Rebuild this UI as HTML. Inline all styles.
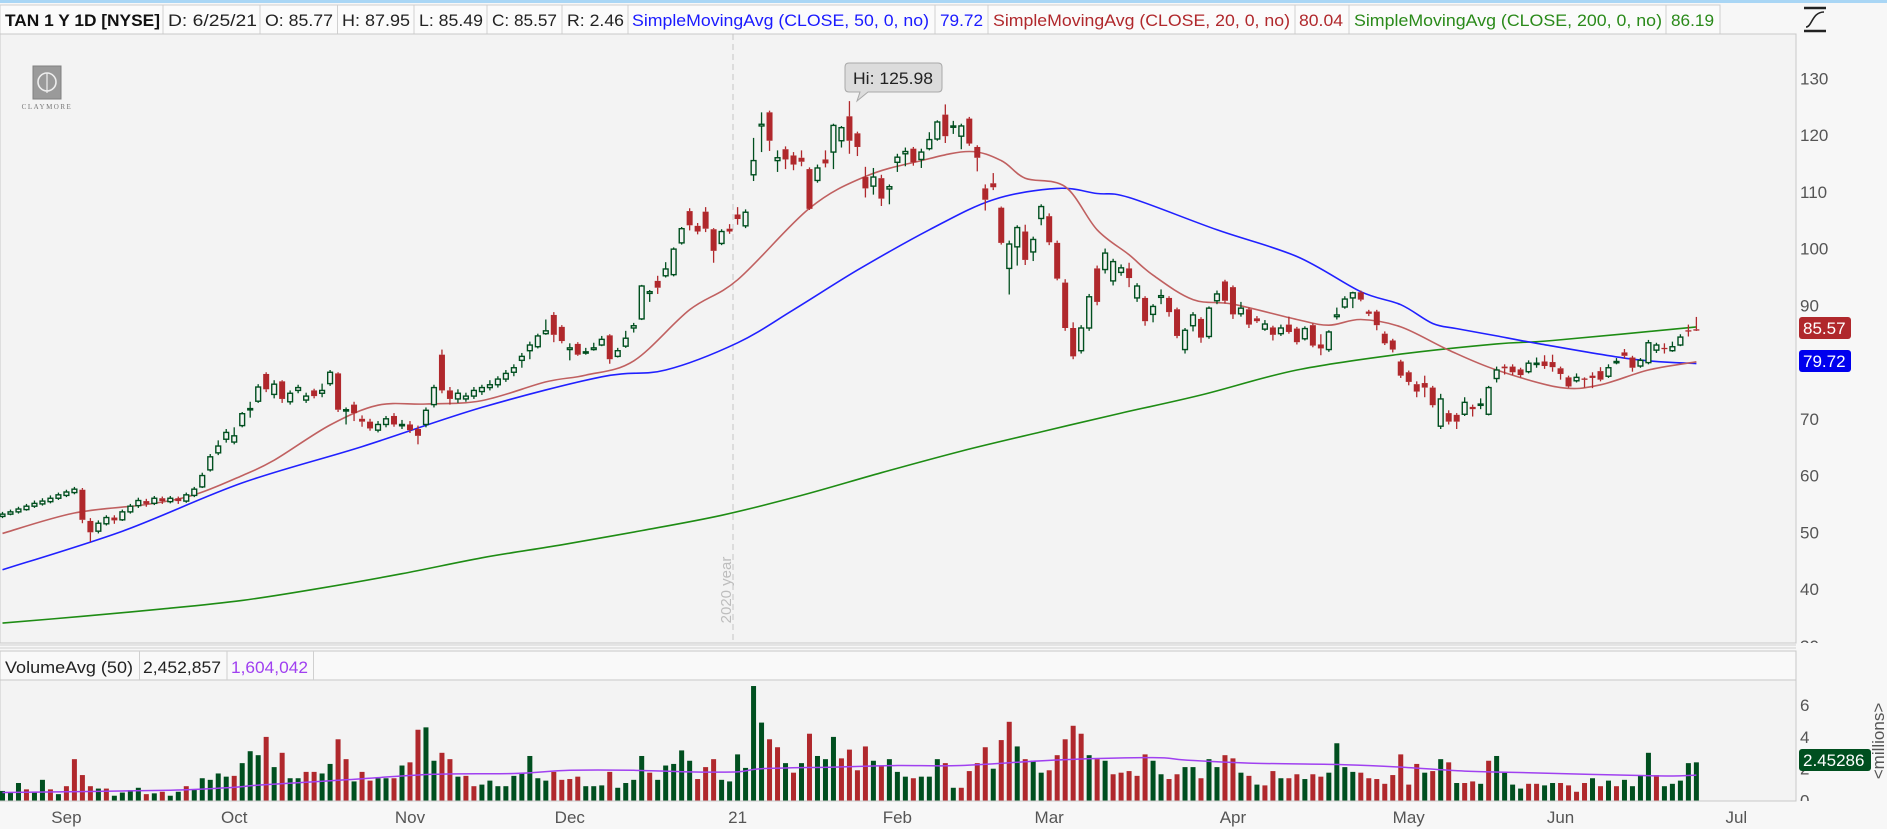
<!DOCTYPE html>
<html><head><meta charset="utf-8"><title>TAN 1 Y 1D</title>
<style>
html,body{margin:0;padding:0;background:#f7f7f7;overflow:hidden}
svg{display:block;font-family:"Liberation Sans",sans-serif}
</style></head>
<body>
<svg id="chart" width="1887" height="829" viewBox="0 0 1887 829" xmlns="http://www.w3.org/2000/svg">
<defs>
<clipPath id="priceClip"><rect x="0" y="34" width="1796" height="609"/></clipPath>
<clipPath id="axisClip"><rect x="1796" y="34" width="91" height="609"/></clipPath>
<clipPath id="volAxisClip"><rect x="1796" y="680" width="91" height="121"/></clipPath>
</defs>
<rect x="0" y="0" width="1887" height="829" fill="#f7f7f7"/>
<rect x="0" y="0" width="1887" height="3" fill="#a9d6f5"/>
<!-- legend row -->
<g>
<rect x="0" y="5" width="1720" height="29" fill="#fbfbfb" stroke="#cfcfcf"/>
<text x="5" y="26" font-size="17" font-weight="bold" fill="#111" textLength="155" lengthAdjust="spacingAndGlyphs">TAN 1 Y 1D [NYSE]</text>
<text x="168" y="26" font-size="17" fill="#222" textLength="89" lengthAdjust="spacingAndGlyphs">D: 6/25/21</text>
<text x="265" y="26" font-size="17" fill="#222" textLength="68" lengthAdjust="spacingAndGlyphs">O: 85.77</text>
<text x="342" y="26" font-size="17" fill="#222" textLength="68" lengthAdjust="spacingAndGlyphs">H: 87.95</text>
<text x="419" y="26" font-size="17" fill="#222" textLength="64" lengthAdjust="spacingAndGlyphs">L: 85.49</text>
<text x="492" y="26" font-size="17" fill="#222" textLength="65" lengthAdjust="spacingAndGlyphs">C: 85.57</text>
<text x="567" y="26" font-size="17" fill="#222" textLength="57" lengthAdjust="spacingAndGlyphs">R: 2.46</text>
<text x="632" y="26" font-size="17" fill="#1a1aff" textLength="297" lengthAdjust="spacingAndGlyphs">SimpleMovingAvg (CLOSE, 50, 0, no)</text>
<text x="940" y="26" font-size="17" fill="#1a1aff" textLength="43" lengthAdjust="spacingAndGlyphs">79.72</text>
<text x="993" y="26" font-size="17" fill="#b0282c" textLength="297" lengthAdjust="spacingAndGlyphs">SimpleMovingAvg (CLOSE, 20, 0, no)</text>
<text x="1299" y="26" font-size="17" fill="#b0282c" textLength="44" lengthAdjust="spacingAndGlyphs">80.04</text>
<text x="1354" y="26" font-size="17" fill="#2a8a1a" textLength="308" lengthAdjust="spacingAndGlyphs">SimpleMovingAvg (CLOSE, 200, 0, no)</text>
<text x="1671" y="26" font-size="17" fill="#2a8a1a" textLength="43" lengthAdjust="spacingAndGlyphs">86.19</text>
<g stroke="#d0d0d0" stroke-width="1">
<line x1="163" y1="5" x2="163" y2="34"/><line x1="260" y1="5" x2="260" y2="34"/><line x1="337.5" y1="5" x2="337.5" y2="34"/><line x1="414" y1="5" x2="414" y2="34"/><line x1="487" y1="5" x2="487" y2="34"/><line x1="562" y1="5" x2="562" y2="34"/><line x1="628" y1="5" x2="628" y2="34"/><line x1="935" y1="5" x2="935" y2="34"/><line x1="988" y1="5" x2="988" y2="34"/><line x1="1295" y1="5" x2="1295" y2="34"/><line x1="1349" y1="5" x2="1349" y2="34"/><line x1="1666" y1="5" x2="1666" y2="34"/>
</g>
</g>
<g stroke="#222" stroke-width="2.5" fill="none">
<line x1="1804" y1="8" x2="1826" y2="8"/><line x1="1804" y1="31" x2="1826" y2="31"/>
<path d="M1806 27 C1812 27 1812 12 1824 12" stroke-width="1.6"/>
</g>
<!-- price panel -->
<rect x="0" y="34" width="1796" height="609" fill="#f3f3f3" stroke="#c8c8c8"/>
<line x1="0" y1="645" x2="1796" y2="645" stroke="#d0d0d0" stroke-width="1"/>
<line x1="0" y1="648" x2="1796" y2="648" stroke="#d0d0d0" stroke-width="1"/>
<!-- volume panel -->
<rect x="0" y="651" width="1796" height="29" fill="#f9f9f9" stroke="#c8c8c8"/>
<rect x="0" y="680" width="1796" height="121" fill="#f3f3f3" stroke="#c8c8c8"/>
<text x="5" y="673" font-size="17" fill="#222" textLength="128" lengthAdjust="spacingAndGlyphs">VolumeAvg (50)</text>
<text x="143" y="673" font-size="17" fill="#222" textLength="78" lengthAdjust="spacingAndGlyphs">2,452,857</text>
<text x="231" y="673" font-size="17" fill="#a040f0" textLength="77" lengthAdjust="spacingAndGlyphs">1,604,042</text>
<g stroke="#d0d0d0"><line x1="139.5" y1="651" x2="139.5" y2="680"/><line x1="227" y1="651" x2="227" y2="680"/><line x1="313.5" y1="651" x2="313.5" y2="680"/></g>
<!-- year separator -->
<line x1="733" y1="34" x2="733" y2="643" stroke="#c4c4c4" stroke-dasharray="6,4"/>
<text transform="translate(731,590) rotate(-90)" text-anchor="middle" font-size="15" fill="#bdbdbd">2020 year</text>
<!-- logo -->
<g>
<rect x="33" y="66" width="28" height="33" fill="#9a9a9a" stroke="#808080"/>
<circle cx="47" cy="82" r="9" fill="none" stroke="#eee" stroke-width="1.6"/>
<line x1="47" y1="73" x2="47" y2="93" stroke="#eee" stroke-width="1.2"/>
<text x="47" y="109" text-anchor="middle" font-size="7" letter-spacing="1.5" fill="#777" font-family="Liberation Serif,serif">CLAYMORE</text>
</g>
<g id="maLayer" clip-path="url(#priceClip)"></g>
<g id="candleLayer" clip-path="url(#priceClip)"></g>
<g id="volLayer"></g>
<g id="axisLayer"></g>
<!-- hi callout -->
<g>
<path d="M849 63 H938 Q942 63 942 67 V88 Q942 92 938 92 H868 L857 101 L860 92 H849 Q845 92 845 88 V67 Q845 63 849 63 Z" fill="#dcdcdc" stroke="#a8a8a8"/>
<text x="893" y="84" text-anchor="middle" font-size="17" fill="#222" textLength="80" lengthAdjust="spacingAndGlyphs">Hi: 125.98</text>
</g>
</svg>
<script>
// ---------- data ----------
const opens=[52.8,53.2,53.6,54,54.6,55,55.4,56,56.5,57,57.5,52,50.2,51.5,52.6,52.2,53.6,54.7,55.5,55.1,56,55.4,56,55.5,56.5,58,61,64,66.4,65.9,68.8,71.6,73.1,77.9,74.3,76.6,73,75,73.3,75,74.5,76.2,78,71.5,72.5,70,69.5,68,69,70.5,68.8,69,68.2,69,72.5,81.3,75,73.5,73.5,74,74.8,75.5,76,77,78.2,80.3,82,82.7,85,88.3,86.2,82.2,83.2,81.8,82.2,83,84.7,81,82.8,86,87.6,92.1,94.3,95.2,95.4,101,106.6,104,106.5,103.4,100.9,103.5,106,104,113,121.6,124,115.5,117.5,116.4,116,114,112,115.7,117,119,123.3,120.3,112.6,111,112.4,110.5,115.2,116.7,117.6,115.7,117.6,119.3,123.6,121.4,119.8,122.9,117.9,110.6,111.5,107.2,96.5,100.3,103,99.4,105.3,105.7,101,94,86,82,86,96.5,96.3,94.3,95.8,96.5,91.3,91.3,88.4,91.4,91.3,89.3,82.2,86.4,87.6,84.5,90.8,94.2,93.2,88.5,89.3,87.7,85.8,86.1,85,86.6,85.9,84.1,86.5,83.1,82.2,88,89.7,91.3,92.3,88.9,88.9,85,83.8,80.1,78.2,76.1,76.3,75.5,68.7,71,70.7,70.8,72.1,72.4,70.8,77.1,79.2,79.2,78.7,78.3,79.7,80.1,80,78.9,77.3,76.7,77.1,77.6,78.4,77.5,80,81.7,80.8,79.3,79.9,82.1,82.5,82,83,85.6,85.77];
const highs=[53.6,54,54.5,55,55.6,56,56.5,57,57.5,58,57.8,52.5,52.1,53,53,54,55,56.1,55.9,56.4,56.3,56.4,56.3,57,58,60.5,63.8,66.2,68.2,68.5,71.2,73,76.1,78.2,76.8,76.8,75,76,74.6,75.3,76.2,78.6,78.2,72,73,70.6,70,69.6,70.5,71,69.8,69.6,68.8,72,76,82.2,75.6,75.2,74.6,75.6,76,76.8,77.5,78.6,79.6,81.6,83.6,85,87.5,88.8,86.5,83.3,83.5,82.5,83.4,84.6,84.9,82.5,85.5,86.9,93.6,92.7,95.2,97.6,100.2,103.8,107.1,104.5,107.3,103.6,103.4,104.3,107.3,106.9,119.5,124,124.3,117.3,118,117,117.3,114.3,114.8,117.3,122,121.6,125.98,120.6,114.4,114.2,113,111.3,116.7,117.8,117.9,117.6,120.5,122.6,125.4,122.5,122,123.2,118.2,111.3,113.3,107.4,101.4,104.1,104.2,102.1,107.8,106.2,101.4,94.6,87,86.5,92,97,100,98.2,97.2,97.5,93.9,91.6,90.2,92.8,91.6,89.6,86,88.8,87.9,89.8,92.6,94.5,93.5,90.6,89.6,88.1,87.4,86.4,86.6,88,86.2,86.3,86.8,84.9,85.6,89.6,91.6,92.4,92.6,89.2,89.2,85.4,84.1,80.4,78.5,76.6,77.6,75.8,74.4,71.5,71,73.8,72.5,73.6,75.8,79.2,79.6,79.6,79,80.3,80.8,81.2,81.3,79.2,77.6,78,77.3,78.2,79.1,79.6,80.7,82.3,81.1,80.7,83.9,83.4,83.3,83.6,84.9,86.6,87.95];
const lows=[52.5,53,53.3,53.8,54.3,54.7,55.1,55.7,56.2,56.7,51.6,48.3,49.8,51.2,51.5,52,53.3,54.3,54.5,54.8,55,55.1,55,55.2,56.2,57.8,60.7,63.6,65.8,65.5,68.5,70.2,72.8,74.7,73.6,72.8,72.5,74.5,72.8,73.6,73.8,75.8,71.2,69,69.6,68.6,67.9,67.6,68.5,68.6,68.2,67.5,65.5,68.5,72,74.5,72.5,72.8,73,73.5,74.2,75,75.5,76.5,77.5,79,80.5,82.4,84.8,83.5,83.3,80.3,81.1,81.3,82,82.8,79.7,80.8,82.5,85.2,87.4,90.6,92,94.9,95.1,100.7,103.2,102.5,102.9,97.5,100.6,102.6,104.2,103.6,111.9,117,117.2,113.5,114,113.8,114.5,106.8,111.6,114.3,114,117.8,116.7,116.3,109,109.5,107.5,107.8,113.5,114.5,114.6,114.2,117.3,119,118.6,120.2,117.5,118.1,113.6,106.7,110.3,100.7,91.9,97,97.1,97.8,104.1,100.6,94.4,85.5,80.5,81.5,85.5,90,95.6,93.5,95.2,93.2,90.6,86.4,87,90.2,88,84.2,81.5,85.4,83.4,84.1,90.2,90.3,87.6,88,86,86.9,85.5,83.8,84.6,85,83.1,83.8,82.6,81.2,81.8,87.5,89.4,89.5,90.7,88.1,85.6,83,81.7,77.2,75.9,73.8,73.8,72,68.2,69,68.2,70.5,70.4,71.7,70.6,76.4,77.8,77.7,77.3,78,79,78.8,78.3,76.9,75.5,76.4,75.5,75.4,76.6,77.2,79.6,80.6,78.3,79,79.6,81.6,81.5,81.8,82.8,84.5,85.49];
const closes=[53.2,53.6,54.1,54.6,55.1,55.5,56,56.6,57.1,57.6,52.2,50,51.6,52.6,52.1,53.6,54.6,55.6,55,56,55.5,56,55.5,56.6,57.6,60,63.3,65.2,67.6,67,70.9,71.8,75.6,75.2,76.1,73.5,74.5,75.5,74,74,75,78.2,71.6,71.6,71,69.5,68.3,69,70,69,69,68,67,71.5,75.5,75,73.5,74.5,74,75,75.5,76,77,78,79,81,83,84.6,85.5,84.8,83.7,82.5,81.3,81.8,82.5,84,80.5,82,84.2,86.4,93.4,92.4,93.1,96.4,99.9,103.5,104.1,103,103.5,99.6,103,103,105.2,106.4,115.5,121.9,119,116,115.7,114.8,115.3,107,114.2,115,121.7,121.3,119,117.9,110.6,112.6,108.8,110.9,116.1,117.1,115.2,117,119.2,122.3,119.8,121.6,121.6,118.5,116,108.6,110.8,101,100.8,103.7,98,101.6,107.4,101.1,94.7,86,81,86,91.5,90.6,99.2,97.7,96.6,94.8,93.4,87.2,89.8,91.7,88.8,84.6,85.6,88.3,84.3,89.5,92,90.8,88.4,89.5,86.6,87.2,86.7,84.8,86,85.3,83.5,85.9,82.9,82.4,85.3,88.3,91.1,92.2,91,88.5,86.5,83.3,82.2,77.6,76.5,74.8,75.5,72.4,73.5,69.5,69.5,72.9,71.7,72.6,75.5,78.6,78.9,78.2,77.7,79.8,79.8,79.3,79.1,77.9,75.7,77.3,76.9,77.2,76.9,79,80.1,81.1,79,80.3,83.4,83,82.4,82.7,84.4,85.4,85.57];
const volumes=[0.6,0.5,1.1,0.7,0.55,1.3,0.7,0.4,0.9,2.6,1.6,0.9,0.75,0.75,0.3,0.5,0.65,0.8,0.4,0.45,0.55,0.3,0.55,0.9,0.7,1.4,1.3,1.7,1.5,1.55,2.35,3.1,2.85,4.0,2.1,3.0,1.4,1.4,1.8,1.8,1.7,2.3,3.85,2.6,1.2,1.8,1.25,1.4,1.4,1.4,2.2,2.4,4.45,4.6,2.5,3.0,2.6,1.5,1.55,0.9,1.0,1.25,0.9,0.9,1.55,1.75,2.8,1.4,1.25,1.8,1.3,1.35,1.5,0.9,0.9,0.95,1.8,0.8,1.1,1.3,2.8,1.75,1.3,2.2,2.3,3.15,2.5,1.35,2.1,2.6,1.3,1.2,2.9,2.05,7.2,4.9,3.85,3.35,2.35,1.75,2.35,4.2,2.8,2.6,4.0,2.65,3.2,1.9,3.4,2.5,2.15,2.6,1.8,
1.5,1.4,1.5,1.5,2.6,2.35,0.8,0.8,1.85,2.35,3.35,2.0,3.8,4.95,3.4,2.6,2.5,1.75,1.9,2.85,3.85,4.7,4.2,2.85,2.6,2.5,1.65,1.75,1.85,1.55,2.9,2.5,1.65,1.35,1.65,2.1,2.1,1.4,2.6,2.1,2.85,2.65,1.75,1.55,1.0,0.95,1.85,1.4,1.4,1.65,1.35,1.65,1.5,1.75,3.6,2.1,1.8,1.75,1.4,1.35,1.05,1.6,2.9,1.0,2.3,1.75,1.85,2.6,2.4,1.1,1.1,1.2,1.05,2.5,2.8,1.75,1.0,0.75,1.05,1.05,0.95,1.1,1.1,0.95,0.55,1.1,1.4,0.9,1.25,0.9,1.3,0.9,1.6,3.0,1.6,0.9,1.05,1.25,2.35,2.4];
const volumeDirs="gggrggrgrrrrgrggggrgrggrgggggrgggrgrggrrggrrgrrggrgrrggrrgrrgggggggggrrrrgggrgggg"+"rgggggrrrggggggrrgrgrgggrrrrgrgg"+"grggg"+"rgrrrrgrrgrggrrrrrgrgrrrrrggrrggrggrrgrgrrgrrgrrggggrrrrrrrrgrgrgrrgrggggrrggrrrrgrgrggggrggg";
const sma20Idx=[0,9,18,24,30,34,41,47,53,60,68,73,79,86,92,101,108,115,121,125,128,133,137,141,144,149,154,162,166,170,175,181,187,195,200,206,212];
const sma20Vals=[49.8,53.4,54.9,56.6,60,62.7,68.9,72.4,72.6,73.2,76.5,77.7,80.2,89.2,94.5,107.1,112.7,115.5,117.1,115.5,112.4,110.9,103.3,98.9,95.3,91,90.2,87.5,86.5,87.5,86.2,82.1,78.6,75.5,76,78.6,80.04];
const sma50Idx=[0,15,30,45,60,75,83,92,99,107,116,124,132,137,141,152,162,170,175,179,182,187,192,204,212];
const sma50Vals=[43.4,50.2,58.7,65.1,72,77.4,78.6,83.4,89.2,96.2,103.3,108.6,110.6,109.7,109,103.3,98.6,92.4,90.1,86.8,85.9,84.6,83.3,80.5,79.72];
const sma200Idx=[0,10,20,30,40,50,60,70,80,90,100,110,120,130,140,150,162,175,187,194,212];
const sma200Vals=[34,35.2,36.5,38,40.2,42.7,45.5,47.8,50.3,53,56.5,60.5,64.3,67.7,71,74.2,78.6,81.4,83.2,83.8,86.19];
const volAvgIdx=[0,21,28,33,43,54,64,71,79,86,92,95,104,112,120,132,144,148,156,168,175,183,191,207,212];
const volAvgVals=[0.5,0.65,0.8,1.0,1.3,1.65,1.7,1.9,1.9,1.8,1.8,2.0,2.1,2.2,2.2,2.55,2.7,2.55,2.35,2.25,2.1,1.85,1.75,1.55,1.6];
const priceTicks=[130,120,110,100,90,80,70,60,50,40,30];
const volTicks=[6,4,2,0];
const monthLabels=["Sep","Oct","Nov","Dec","21","Feb","Mar","Apr","May","Jun","Jul"];
const monthBarIdx=[8,29,51,71,92,112,131,154,176,195,217];
// ---------- scales ----------
const NS="http://www.w3.org/2000/svg";
function xOf(i){return 2.5+7.99*i;}
function yP(p){return 78.3+(130-p)*5.675;}
function yV(v){return 800.5-v*15.9;}
function mk(tag,attrs,parent){const e=document.createElementNS(NS,tag);for(const k in attrs)e.setAttribute(k,attrs[k]);parent.appendChild(e);return e;}
const GREEN="#004f1f",RED="#b0282c";
// candles
const cl=document.getElementById('candleLayer');
for(let i=0;i<closes.length;i++){
  const x=xOf(i),o=opens[i],c=closes[i],h=highs[i],l=lows[i];
  const up=c>=o;const col=up?GREEN:RED;
  const g=mk('g',{},cl);
  
  
  const top=yP(Math.max(o,c)),bot=yP(Math.min(o,c));
  mk('line',{x1:x,x2:x,y1:yP(h),y2:top,stroke:col,'stroke-width':1.3},g);
  mk('line',{x1:x,x2:x,y1:bot,y2:yP(l),stroke:col,'stroke-width':1.3},g);
  const bh=Math.max(bot-top,1.3);
  if(up) mk('rect',{x:x-2.4,y:top,width:4.8,height:bh,fill:'#f3f3f3',stroke:col,'stroke-width':1.4},g);
  else mk('rect',{x:x-3,y:top,width:6,height:bh,fill:col},g);
}
// moving averages
function smoothPath(idx,vals,yf){
  const pts=idx.map((d,k)=>[xOf(d),yf(vals[k])]);
  let d='M'+pts[0][0]+' '+pts[0][1];
  for(let k=0;k<pts.length-1;k++){
    const p0=pts[k-1]||pts[k],p1=pts[k],p2=pts[k+1],p3=pts[k+2]||p2;
    const c1x=p1[0]+(p2[0]-p0[0])/6,c1y=p1[1]+(p2[1]-p0[1])/6;
    const c2x=p2[0]-(p3[0]-p1[0])/6,c2y=p2[1]-(p3[1]-p1[1])/6;
    d+=' C'+c1x.toFixed(1)+' '+c1y.toFixed(1)+' '+c2x.toFixed(1)+' '+c2y.toFixed(1)+' '+p2[0].toFixed(1)+' '+p2[1].toFixed(1);
  }
  return d;
}
const ml=document.getElementById('maLayer');
const s200=mk('path',{d:smoothPath(sma200Idx,sma200Vals,yP),fill:'none',stroke:'#1e8c14','stroke-width':1.6},ml);


const s50=mk('path',{d:smoothPath(sma50Idx,sma50Vals,yP),fill:'none',stroke:'#2020ff','stroke-width':1.6},ml);


const s20=mk('path',{d:smoothPath(sma20Idx,sma20Vals,yP),fill:'none',stroke:'#c06060','stroke-width':1.6},ml);


// volume
const vl=document.getElementById('volLayer');
for(let i=0;i<volumes.length;i++){
  const x=xOf(i),v=volumes[i];
  const col=volumeDirs[i]==='r'?RED:GREEN;
  const r=mk('rect',{x:x-2.5,y:yV(v),width:5,height:v*15.9,fill:col},vl);
  
  
}
const va=mk('path',{d:smoothPath(volAvgIdx,volAvgVals,yV),fill:'none',stroke:'#a040f0','stroke-width':1.5},vl);


// axes
const al=document.getElementById('axisLayer');
const pa=mk('g',{'clip-path':'url(#axisClip)'},al);
priceTicks.forEach(t=>{
  const tx=mk('text',{x:1800,y:yP(t)+6,'font-size':17,fill:'#555'},pa);
  tx.textContent=t;
  
  
});
const vax=mk('g',{'clip-path':'url(#volAxisClip)'},al);
volTicks.forEach(t=>{
  const tx=mk('text',{x:1800,y:yV(t)+6,'font-size':17,fill:'#555'},vax);
  tx.textContent=t;
  
  
});
monthLabels.forEach((m,k)=>{
  const tx=mk('text',{x:xOf(monthBarIdx[k]),y:823,'font-size':17,fill:'#555','text-anchor':'middle'},al);
  tx.textContent=m;
  
  
});
// price badges
function badge(val,fill,w,name,yc){
  const g=mk('g',{},al);
  
  
  mk('rect',{x:1799,y:yc-11,width:w,height:22,rx:3,fill:fill},g);
  const t=mk('text',{x:1803,y:yc+6,'font-size':17,fill:'#fff'},g);
  t.textContent=val;
}
badge(closes[closes.length-1].toFixed(2),'#b0282c',52,'last-price-badge',328);
badge(sma50Vals[sma50Vals.length-1].toFixed(2),'#0000ee',52,'sma50-badge',361);
badge('2.45286','#004f1f',72,'volume-badge',760);
const mil=mk('text',{transform:'translate(1884,741) rotate(-90)','text-anchor':'middle','font-size':17,fill:'#555'},al);
mil.textContent='<millions>';


</script>
</body></html>
